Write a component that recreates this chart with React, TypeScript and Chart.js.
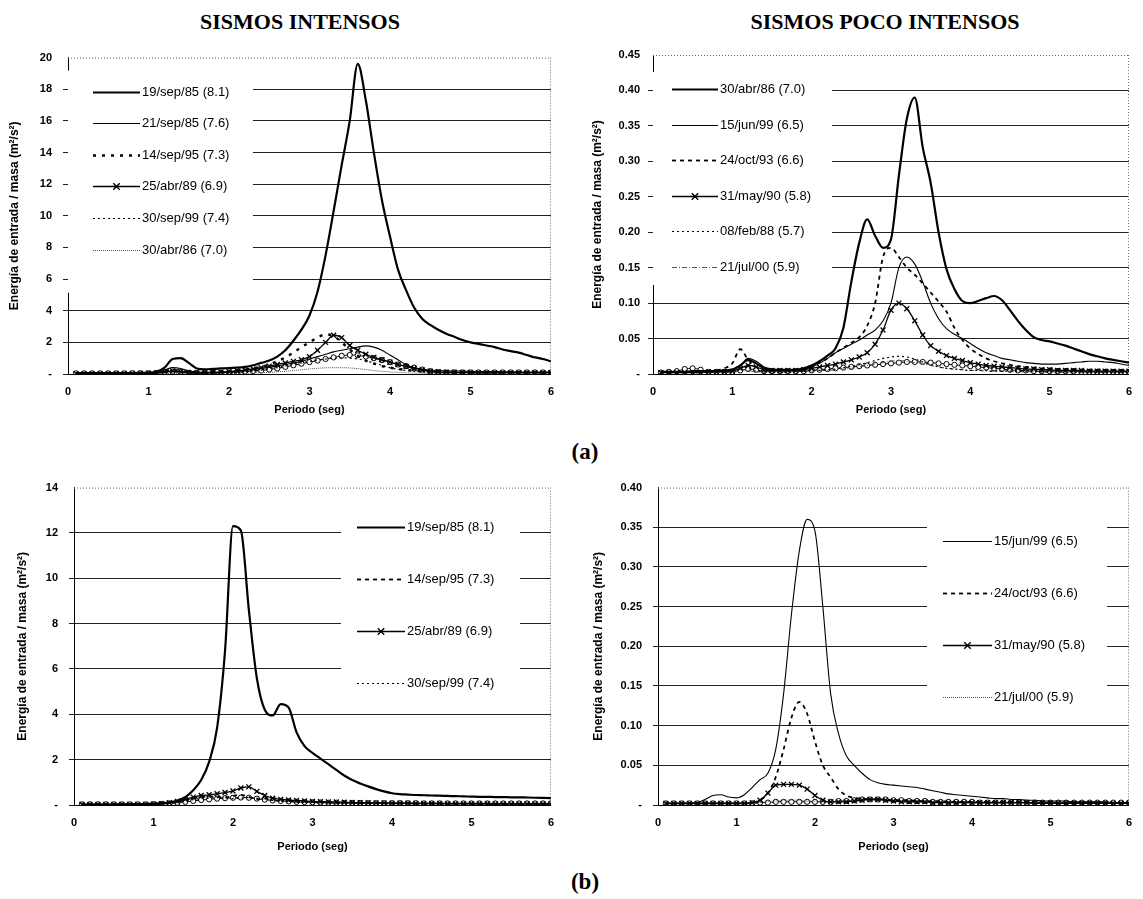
import { useEffect, useRef } from 'react';
import { Chart, registerables } from 'chart.js';

Chart.register(...registerables);

// ---------- shared x values (periodo, seg) ----------
const periods = [
  0.1, 0.2, 0.3, 0.4, 0.5, 0.6, 0.7, 0.8, 0.9, 1.0,
  1.1, 1.2, 1.3, 1.4, 1.5, 1.6, 1.7, 1.8, 1.9, 2.0,
  2.1, 2.2, 2.3, 2.4, 2.5, 2.6, 2.7, 2.8, 2.9, 3.0,
  3.1, 3.2, 3.3, 3.4, 3.5, 3.6, 3.7, 3.8, 3.9, 4.0,
  4.1, 4.2, 4.3, 4.4, 4.5, 4.6, 4.7, 4.8, 4.9, 5.0,
  5.1, 5.2, 5.3, 5.4, 5.5, 5.6, 5.7, 5.8, 5.9, 6.0,
];
const xTicks = [0, 1, 2, 3, 4, 5, 6];

// ---------- (a) SISMOS INTENSOS ----------
const tl19sep85 = [
  0.05, 0.05, 0.05, 0.05, 0.05, 0.05, 0.06, 0.06, 0.07, 0.08,
  0.15, 0.4, 0.95, 1.0, 0.7, 0.35, 0.3, 0.32, 0.35, 0.38,
  0.4, 0.45, 0.55, 0.7, 0.85, 1.1, 1.5, 2.1, 2.8, 3.7,
  5.2, 7.5, 10.3, 13.2, 16.0, 19.6, 17.3, 14.0, 11.0, 8.7,
  6.6, 5.3, 4.2, 3.5, 3.1, 2.8, 2.55, 2.35, 2.15, 2.0,
  1.9, 1.8, 1.7, 1.55, 1.45, 1.35, 1.2, 1.05, 0.95, 0.8,
];
const tl21sep85 = [
  0.03, 0.03, 0.03, 0.03, 0.03, 0.03, 0.04, 0.04, 0.05, 0.06,
  0.1, 0.25, 0.4, 0.35, 0.2, 0.12, 0.1, 0.1, 0.12, 0.15,
  0.18, 0.22, 0.28, 0.35, 0.42, 0.5, 0.6, 0.7, 0.8, 0.95,
  1.1, 1.25, 1.4, 1.5, 1.6, 1.7, 1.78, 1.7, 1.5, 1.2,
  0.9, 0.6, 0.4, 0.3, 0.25, 0.22, 0.2, 0.19, 0.18, 0.17,
  0.16, 0.15, 0.15, 0.14, 0.14, 0.13, 0.13, 0.12, 0.12, 0.12,
];
const tl14sep95 = [
  0.03, 0.03, 0.03, 0.03, 0.03, 0.03, 0.04, 0.05, 0.06, 0.08,
  0.12, 0.2, 0.25, 0.2, 0.12, 0.1, 0.1, 0.12, 0.15, 0.18,
  0.22, 0.28, 0.35, 0.45, 0.6, 0.8, 1.05, 1.35, 1.7, 2.0,
  2.3, 2.5, 2.4, 2.0, 1.55, 1.15, 0.85, 0.65, 0.5, 0.4,
  0.32, 0.26, 0.22, 0.19, 0.17, 0.15, 0.14, 0.13, 0.12, 0.11,
  0.1, 0.1, 0.1, 0.1, 0.1, 0.1, 0.1, 0.1, 0.1, 0.1,
];
const tl25abr89 = [
  0.02, 0.02, 0.02, 0.02, 0.02, 0.03, 0.03, 0.03, 0.04, 0.05,
  0.08, 0.15, 0.2, 0.15, 0.1, 0.08, 0.08, 0.1, 0.12, 0.15,
  0.2, 0.25, 0.32, 0.4, 0.5, 0.6, 0.7, 0.8, 0.9, 1.1,
  1.5, 2.0, 2.45, 2.3, 1.8, 1.5, 1.25, 1.05, 0.9, 0.75,
  0.6, 0.48, 0.35, 0.25, 0.18, 0.14, 0.12, 0.11, 0.1, 0.1,
  0.09, 0.09, 0.09, 0.09, 0.09, 0.09, 0.09, 0.09, 0.09, 0.09,
];
const tl30sep99 = [
  0.02, 0.02, 0.02, 0.02, 0.02, 0.02, 0.02, 0.03, 0.03, 0.04,
  0.05, 0.1, 0.15, 0.1, 0.06, 0.05, 0.05, 0.06, 0.08, 0.1,
  0.12, 0.15, 0.2, 0.25, 0.32, 0.4, 0.5, 0.6, 0.7, 0.8,
  0.88, 0.95, 1.0, 1.02, 1.0, 0.95, 0.85, 0.7, 0.55, 0.4,
  0.3, 0.22, 0.17, 0.14, 0.12, 0.1, 0.09, 0.08, 0.08, 0.07,
  0.07, 0.07, 0.07, 0.07, 0.07, 0.07, 0.07, 0.07, 0.07, 0.07,
];
const tl30abr86 = [
  0.01, 0.01, 0.01, 0.01, 0.01, 0.01, 0.01, 0.01, 0.01, 0.01,
  0.01, 0.02, 0.03, 0.02, 0.01, 0.01, 0.01, 0.02, 0.02, 0.03,
  0.04, 0.05, 0.06, 0.08, 0.1, 0.13, 0.17, 0.22, 0.27, 0.32,
  0.36, 0.39, 0.4, 0.4, 0.38, 0.34, 0.28, 0.22, 0.17, 0.13,
  0.1, 0.08, 0.06, 0.05, 0.04, 0.04, 0.03, 0.03, 0.03, 0.03,
  0.03, 0.03, 0.03, 0.03, 0.03, 0.03, 0.03, 0.03, 0.03, 0.03,
];
const tlCircles = [
  0.04, 0.04, 0.04, 0.04, 0.04, 0.04, 0.04, 0.05, 0.05, 0.05,
  0.06, 0.1, 0.15, 0.12, 0.08, 0.06, 0.06, 0.07, 0.08, 0.1,
  0.12, 0.15, 0.18, 0.22, 0.28, 0.35, 0.45, 0.55, 0.65, 0.75,
  0.85, 0.95, 1.05, 1.15, 1.2, 1.18, 1.1, 1.0, 0.88, 0.75,
  0.6, 0.5, 0.4, 0.28, 0.18, 0.12, 0.1, 0.1, 0.1, 0.1,
  0.1, 0.1, 0.1, 0.1, 0.1, 0.1, 0.1, 0.1, 0.1, 0.1,
];

// ---------- (a) SISMOS POCO INTENSOS ----------
const tr30abr86 = [
  0.003, 0.003, 0.003, 0.003, 0.004, 0.004, 0.004, 0.004, 0.005, 0.006,
  0.012, 0.02, 0.015, 0.008, 0.006, 0.006, 0.006, 0.006, 0.008, 0.012,
  0.018, 0.026, 0.036, 0.065, 0.13, 0.185, 0.218, 0.195, 0.178, 0.19,
  0.28, 0.36, 0.39, 0.32, 0.27, 0.2, 0.148, 0.12, 0.103, 0.1,
  0.103, 0.107, 0.11, 0.104, 0.09, 0.075, 0.062, 0.052, 0.048, 0.046,
  0.043, 0.04, 0.036, 0.032, 0.028, 0.025, 0.022, 0.02, 0.018, 0.016,
];
const tr15jun99 = [
  0.003, 0.003, 0.003, 0.003, 0.003, 0.003, 0.004, 0.004, 0.005, 0.007,
  0.012, 0.022, 0.018, 0.01, 0.007, 0.006, 0.006, 0.006, 0.007, 0.01,
  0.015, 0.022, 0.03, 0.036, 0.042, 0.048, 0.055, 0.062, 0.075, 0.1,
  0.15, 0.165, 0.155, 0.13, 0.1, 0.078, 0.064, 0.056, 0.05, 0.043,
  0.036, 0.03, 0.026, 0.022, 0.02, 0.018, 0.016, 0.015, 0.014, 0.014,
  0.014, 0.015, 0.016, 0.017, 0.018, 0.018, 0.017, 0.016, 0.014, 0.012,
];
const tr24oct93 = [
  0.003, 0.003, 0.003, 0.003, 0.003, 0.004, 0.004, 0.005, 0.008, 0.015,
  0.035, 0.02, 0.01, 0.006, 0.005, 0.005, 0.005, 0.006, 0.008, 0.012,
  0.016, 0.022, 0.03, 0.037, 0.044, 0.052, 0.068, 0.1, 0.165, 0.178,
  0.165, 0.15, 0.14, 0.128, 0.115, 0.102, 0.088, 0.065, 0.048, 0.036,
  0.028, 0.022, 0.018, 0.015, 0.013, 0.011, 0.01, 0.009, 0.008, 0.008,
  0.007, 0.007, 0.007, 0.006, 0.006, 0.006, 0.006, 0.005, 0.005, 0.005,
];
const tr31may90 = [
  0.002, 0.002, 0.002, 0.002, 0.002, 0.002, 0.003, 0.003, 0.003, 0.004,
  0.008, 0.012, 0.01, 0.006, 0.005, 0.005, 0.005, 0.005, 0.006, 0.008,
  0.01, 0.012, 0.014, 0.017, 0.02, 0.024, 0.03, 0.042, 0.062, 0.09,
  0.1, 0.092, 0.075, 0.055, 0.04, 0.032, 0.026, 0.022, 0.019, 0.016,
  0.014, 0.012, 0.011, 0.01, 0.009, 0.008, 0.007, 0.007, 0.006, 0.006,
  0.005, 0.005, 0.005, 0.005, 0.004, 0.004, 0.004, 0.004, 0.004, 0.004,
];
const tr08feb88 = [
  0.002, 0.002, 0.002, 0.002, 0.002, 0.002, 0.002, 0.003, 0.004, 0.006,
  0.012, 0.008, 0.004, 0.003, 0.003, 0.003, 0.003, 0.004, 0.004, 0.005,
  0.005, 0.006, 0.007, 0.009, 0.011, 0.013, 0.016, 0.019, 0.022, 0.024,
  0.025, 0.024, 0.021, 0.017, 0.013, 0.01, 0.008, 0.007, 0.006, 0.005,
  0.005, 0.005, 0.004, 0.004, 0.004, 0.004, 0.004, 0.004, 0.003, 0.003,
  0.003, 0.003, 0.003, 0.003, 0.003, 0.003, 0.003, 0.003, 0.003, 0.003,
];
const tr21jul00 = [
  0.002, 0.002, 0.002, 0.002, 0.002, 0.002, 0.002, 0.002, 0.002, 0.003,
  0.006, 0.005, 0.003, 0.003, 0.003, 0.003, 0.003, 0.003, 0.004, 0.004,
  0.005, 0.005, 0.006, 0.007, 0.008, 0.01, 0.012, 0.014, 0.016, 0.018,
  0.019, 0.018, 0.016, 0.014, 0.012, 0.01, 0.008, 0.007, 0.006, 0.005,
  0.005, 0.004, 0.004, 0.004, 0.004, 0.003, 0.003, 0.003, 0.003, 0.003,
  0.003, 0.003, 0.003, 0.003, 0.003, 0.003, 0.003, 0.003, 0.003, 0.003,
];
const trCircles = [
  0.002, 0.003, 0.004, 0.007, 0.008, 0.006, 0.003, 0.003, 0.003, 0.003,
  0.005, 0.007, 0.006, 0.004, 0.004, 0.004, 0.004, 0.004, 0.004, 0.005,
  0.006, 0.007, 0.008, 0.009, 0.01, 0.011, 0.012, 0.013, 0.014, 0.015,
  0.016, 0.017, 0.017, 0.017, 0.016, 0.015, 0.014, 0.013, 0.012, 0.011,
  0.01, 0.009, 0.008, 0.007, 0.006, 0.005, 0.005, 0.004, 0.004, 0.004,
  0.004, 0.004, 0.004, 0.003, 0.003, 0.003, 0.003, 0.003, 0.003, 0.003,
];

// ---------- (b) SISMOS INTENSOS ----------
const bl19sep85 = [
  0.02, 0.02, 0.02, 0.02, 0.02, 0.03, 0.03, 0.04, 0.05, 0.06,
  0.08, 0.12, 0.2, 0.35, 0.65, 1.1, 1.9, 3.4, 6.8, 12.3,
  12.1, 8.6, 5.6, 4.2, 3.95, 4.45, 4.3, 3.2, 2.6, 2.3,
  2.05, 1.8, 1.55, 1.3, 1.1, 0.95, 0.82, 0.7, 0.6, 0.52,
  0.48, 0.46, 0.44, 0.43, 0.42, 0.41, 0.4, 0.39, 0.38, 0.37,
  0.36, 0.36, 0.35, 0.35, 0.34, 0.34, 0.33, 0.32, 0.31, 0.3,
];
const bl14sep95 = [
  0.02, 0.02, 0.02, 0.02, 0.02, 0.02, 0.03, 0.03, 0.03, 0.04,
  0.06, 0.1, 0.15, 0.22, 0.3, 0.35, 0.38, 0.36, 0.33, 0.4,
  0.45, 0.35, 0.25, 0.28, 0.3, 0.25, 0.2, 0.17, 0.15, 0.13,
  0.12, 0.11, 0.1, 0.1, 0.09, 0.09, 0.08, 0.08, 0.08, 0.07,
  0.07, 0.07, 0.07, 0.06, 0.06, 0.06, 0.06, 0.06, 0.06, 0.06,
  0.05, 0.05, 0.05, 0.05, 0.05, 0.05, 0.05, 0.05, 0.05, 0.05,
];
const bl25abr89 = [
  0.02, 0.02, 0.02, 0.02, 0.02, 0.02, 0.03, 0.03, 0.03, 0.04,
  0.06, 0.1, 0.16, 0.25, 0.35, 0.42, 0.45, 0.5, 0.55, 0.62,
  0.75, 0.8, 0.6, 0.42, 0.3, 0.25, 0.22, 0.2, 0.18, 0.16,
  0.15, 0.14, 0.13, 0.12, 0.11, 0.1, 0.1, 0.09, 0.09, 0.08,
  0.08, 0.08, 0.07, 0.07, 0.07, 0.07, 0.06, 0.06, 0.06, 0.06,
  0.06, 0.06, 0.05, 0.05, 0.05, 0.05, 0.05, 0.05, 0.05, 0.05,
];
const bl30sep99 = [
  0.02, 0.02, 0.02, 0.02, 0.02, 0.02, 0.02, 0.03, 0.03, 0.04,
  0.05, 0.08, 0.12, 0.18, 0.24, 0.28, 0.3, 0.32, 0.3, 0.28,
  0.3, 0.33, 0.3, 0.25, 0.2, 0.17, 0.15, 0.13, 0.12, 0.11,
  0.1, 0.09, 0.09, 0.08, 0.08, 0.07, 0.07, 0.07, 0.06, 0.06,
  0.06, 0.06, 0.05, 0.05, 0.05, 0.05, 0.05, 0.05, 0.05, 0.05,
  0.04, 0.04, 0.04, 0.04, 0.04, 0.04, 0.04, 0.04, 0.04, 0.04,
];
const blCircles = [
  0.03, 0.03, 0.03, 0.03, 0.03, 0.03, 0.03, 0.03, 0.03, 0.04,
  0.05, 0.07, 0.1, 0.14, 0.18, 0.22, 0.25, 0.28, 0.3, 0.32,
  0.33, 0.32, 0.28, 0.24, 0.2, 0.18, 0.16, 0.14, 0.13, 0.12,
  0.11, 0.1, 0.1, 0.09, 0.09, 0.09, 0.08, 0.08, 0.08, 0.08,
  0.08, 0.08, 0.08, 0.07, 0.07, 0.07, 0.07, 0.07, 0.07, 0.07,
  0.07, 0.07, 0.07, 0.07, 0.07, 0.07, 0.07, 0.07, 0.07, 0.07,
];

// ---------- (b) SISMOS POCO INTENSOS ----------
const br15jun99 = [
  0.002, 0.002, 0.002, 0.002, 0.003, 0.007, 0.012, 0.013, 0.01, 0.009,
  0.013, 0.022, 0.032, 0.04, 0.07, 0.14, 0.24, 0.32, 0.36, 0.345,
  0.25, 0.14, 0.09, 0.062, 0.05, 0.04, 0.032, 0.028, 0.026, 0.025,
  0.024, 0.023, 0.022, 0.02, 0.018, 0.016, 0.014, 0.013, 0.012, 0.011,
  0.01, 0.009, 0.008, 0.008, 0.007, 0.007, 0.006, 0.006, 0.005, 0.005,
  0.005, 0.005, 0.004, 0.004, 0.004, 0.004, 0.004, 0.003, 0.003, 0.003,
];
const br24oct93 = [
  0.002, 0.002, 0.002, 0.002, 0.002, 0.002, 0.002, 0.002, 0.002, 0.002,
  0.002, 0.003, 0.006, 0.015, 0.035, 0.07, 0.11, 0.13, 0.115, 0.08,
  0.05, 0.035, 0.02, 0.012, 0.009, 0.008, 0.007, 0.007, 0.007, 0.006,
  0.006, 0.006, 0.005, 0.005, 0.005, 0.005, 0.004, 0.004, 0.004, 0.004,
  0.004, 0.004, 0.004, 0.004, 0.004, 0.004, 0.004, 0.004, 0.004, 0.004,
  0.003, 0.003, 0.003, 0.003, 0.003, 0.003, 0.003, 0.003, 0.003, 0.003,
];
const br31may90 = [
  0.002, 0.002, 0.002, 0.002, 0.002, 0.002, 0.002, 0.002, 0.002, 0.002,
  0.002, 0.003, 0.006, 0.015, 0.025, 0.026, 0.026, 0.025, 0.02, 0.012,
  0.006, 0.004, 0.004, 0.004, 0.005, 0.006, 0.007, 0.007, 0.006, 0.005,
  0.004, 0.004, 0.004, 0.004, 0.003, 0.003, 0.003, 0.003, 0.003, 0.003,
  0.003, 0.003, 0.003, 0.003, 0.003, 0.003, 0.003, 0.002, 0.002, 0.002,
  0.002, 0.002, 0.002, 0.002, 0.002, 0.002, 0.002, 0.002, 0.002, 0.002,
];
const br21jul00 = [
  0.001, 0.001, 0.001, 0.001, 0.001, 0.002, 0.002, 0.002, 0.002, 0.002,
  0.002, 0.002, 0.003, 0.004, 0.005, 0.006, 0.006, 0.006, 0.005, 0.005,
  0.004, 0.004, 0.004, 0.005, 0.005, 0.006, 0.006, 0.006, 0.005, 0.005,
  0.004, 0.004, 0.004, 0.003, 0.003, 0.003, 0.003, 0.003, 0.003, 0.002,
  0.002, 0.002, 0.002, 0.002, 0.002, 0.002, 0.002, 0.002, 0.002, 0.002,
  0.002, 0.002, 0.002, 0.002, 0.002, 0.002, 0.002, 0.002, 0.002, 0.002,
];
const brCircles = [
  0.002, 0.002, 0.002, 0.002, 0.002, 0.002, 0.002, 0.002, 0.002, 0.002,
  0.002, 0.002, 0.003, 0.003, 0.004, 0.004, 0.004, 0.004, 0.004, 0.004,
  0.004, 0.004, 0.005, 0.005, 0.006, 0.007, 0.007, 0.007, 0.007, 0.006,
  0.006, 0.005, 0.005, 0.005, 0.004, 0.004, 0.004, 0.004, 0.004, 0.004,
  0.003, 0.003, 0.003, 0.003, 0.003, 0.003, 0.003, 0.003, 0.003, 0.003,
  0.003, 0.003, 0.003, 0.003, 0.003, 0.003, 0.003, 0.003, 0.003, 0.003,
];

// ---------- styles ----------
type StyleKey = 'thick' | 'thin' | 'bigDots' | 'dashed' | 'cross' | 'dotted' | 'fine' | 'dashDot' | 'circles';
const STYLE: Record<StyleKey, any> = {
  thick: { borderWidth: 2.2, borderDash: [], color: '#000', radius: 0 },
  thin: { borderWidth: 1.1, borderDash: [], color: '#000', radius: 0 },
  bigDots: { borderWidth: 2.4, borderDash: [3, 6], color: '#000', radius: 0 },
  dashed: { borderWidth: 1.8, borderDash: [4, 4], color: '#000', radius: 0 },
  cross: { borderWidth: 1.3, borderDash: [], color: '#000', radius: 3.5, pointStyle: 'crossRot', pointBorderWidth: 1.3 },
  dotted: { borderWidth: 1.2, borderDash: [2, 3], color: '#000', radius: 0 },
  fine: { borderWidth: 1, borderDash: [1, 1], color: '#555', radius: 0 },
  dashDot: { borderWidth: 1, borderDash: [5, 2, 1, 2], color: '#555', radius: 0 },
  circles: { borderWidth: 1, borderDash: [], color: '#000', radius: 2.6, pointStyle: 'circle', pointBorderWidth: 1, pointBg: '#fff' },
};

type Series = { label: string; values: number[]; style: StyleKey };

const FONT = 'Arial, "Liberation Sans", Helvetica, sans-serif';

type Panel = {
  left: number; top: number; w: number; h: number;
  yWidth: number; xHeight: number; padTop: number; padRight: number;
  yMax: number; yStep: number; decimals: number;
  yTitlePad: number; xTitlePad: number; tickPadY: number;
  series: Series[];
  legend: { boxX: number; boxY: number; boxW: number; boxH: number; rowY: number; rowGap: number; lineX0: number; lineX1: number; textX: number; font: number };
};

const insideLegend = {
  id: 'insideLegend',
  beforeDatasetsDraw(chart: any, _args: any, opts: any) {
    const { ctx, chartArea: a } = chart;
    ctx.save();
    // dotted top and right frame
    ctx.strokeStyle = '#666';
    ctx.lineWidth = 1;
    ctx.setLineDash([1, 2]);
    ctx.beginPath();
    ctx.moveTo(a.left, a.top + 0.5);
    ctx.lineTo(a.right, a.top + 0.5);
    ctx.moveTo(a.right - 0.5, a.top);
    ctx.lineTo(a.right - 0.5, a.bottom);
    ctx.stroke();
    // legend box
    ctx.setLineDash([]);
    ctx.fillStyle = '#fff';
    ctx.fillRect(a.left + opts.boxX, a.top + opts.boxY, opts.boxW, opts.boxH);
    let row = 0;
    chart.data.datasets.forEach((ds: any) => {
      if (!ds.label) return;
      const y = Math.round(a.top + opts.rowY + row * opts.rowGap) + 0.5;
      const x0 = a.left + opts.lineX0;
      const x1 = a.left + opts.lineX1;
      ctx.strokeStyle = ds.borderColor;
      ctx.lineWidth = ds.borderWidth;
      ctx.setLineDash(ds.borderDash || []);
      ctx.beginPath();
      ctx.moveTo(x0, y);
      ctx.lineTo(x1, y);
      ctx.stroke();
      ctx.setLineDash([]);
      if (ds.pointRadius > 0 && ds.pointStyle === 'crossRot') {
        const r = ds.pointRadius + 0.8;
        const cx = (x0 + x1) / 2;
        ctx.lineWidth = 1.4;
        ctx.beginPath();
        ctx.moveTo(cx - r * 0.75, y - r * 0.75);
        ctx.lineTo(cx + r * 0.75, y + r * 0.75);
        ctx.moveTo(cx + r * 0.75, y - r * 0.75);
        ctx.lineTo(cx - r * 0.75, y + r * 0.75);
        ctx.stroke();
      }
      ctx.fillStyle = '#000';
      ctx.font = `${opts.font}px ${FONT}`;
      ctx.textBaseline = 'middle';
      ctx.textAlign = 'left';
      ctx.fillText(ds.label, a.left + opts.textX, y);
      row++;
    });
    ctx.restore();
  },
};

function buildConfig(p: Panel): any {
  const datasets = p.series.map((s) => {
    const st = STYLE[s.style];
    return {
      label: s.label,
      data: periods.map((x, i) => ({ x, y: s.values[i] })),
      borderColor: st.color,
      backgroundColor: st.color,
      borderWidth: st.borderWidth,
      borderDash: st.borderDash,
      pointStyle: st.pointStyle || 'circle',
      pointRadius: st.radius,
      pointBorderWidth: st.pointBorderWidth || 1,
      pointBackgroundColor: st.pointBg || '#000',
      pointBorderColor: '#000',
      fill: false,
      cubicInterpolationMode: 'monotone',
    };
  });
  const tickFont = { family: FONT, size: 11, weight: 'bold' as const };
  const titleFont = { family: FONT, size: 12, weight: 'bold' as const };
  const yMax = p.yMax;
  return {
    type: 'line',
    data: { datasets },
    options: {
      animation: false,
      responsive: false,
      maintainAspectRatio: false,
      devicePixelRatio: 1,
      layout: { padding: { top: p.padTop, right: p.padRight, left: 0, bottom: 0 } },
      plugins: {
        legend: { display: false },
        tooltip: { enabled: false },
        insideLegend: p.legend,
      },
      scales: {
        x: {
          type: 'linear',
          min: 0,
          max: 6,
          afterBuildTicks: (s: any) => { s.ticks = xTicks.map((v) => ({ value: v })); },
          ticks: { font: tickFont, color: '#000', padding: 11, maxRotation: 0, callback: (v: any) => String(v) },
          grid: { display: false, drawTicks: false },
          border: { display: true, color: '#000', width: 1 },
          title: { display: true, text: 'Periodo (seg)', font: { family: FONT, size: 11, weight: 'bold' }, color: '#000', padding: { top: 0, bottom: p.xTitlePad } },
          afterFit: (s: any) => { s.height = p.xHeight; },
        },
        y: {
          type: 'linear',
          min: 0,
          max: yMax,
          ticks: {
            stepSize: p.yStep,
            font: tickFont,
            color: '#000',
            padding: p.tickPadY,
            callback: (v: any) => (Math.abs(v) < 1e-9 ? '-' : Number(v).toFixed(p.decimals)),
          },
          grid: {
            color: (c: any) => (c.tick && Math.abs(c.tick.value - yMax) < 1e-9 ? 'rgba(0,0,0,0)' : '#222'),
            lineWidth: 1,
            tickLength: 5,
          },
          border: { display: true, color: '#000', width: 1 },
          title: {
            display: true,
            text: 'Energía de entrada / masa (m²/s²)',
            font: titleFont,
            color: '#000',
            padding: { top: p.yTitlePad, bottom: 0 },
          },
          afterFit: (s: any) => { s.width = p.yWidth; },
        },
      },
    },
    plugins: [insideLegend],
  };
}

const panels: Panel[] = [
  {
    left: 0, top: 40, w: 565, h: 380, yWidth: 68, xHeight: 46, padTop: 15, padRight: 14,
    yMax: 20, yStep: 2, decimals: 0, yTitlePad: 7, xTitlePad: 3, tickPadY: 11,
    series: [
      { label: '19/sep/85 (8.1)', values: tl19sep85, style: 'thick' },
      { label: '21/sep/85 (7.6)', values: tl21sep85, style: 'thin' },
      { label: '14/sep/95 (7.3)', values: tl14sep95, style: 'bigDots' },
      { label: '25/abr/89 (6.9)', values: tl25abr89, style: 'cross' },
      { label: '30/sep/99 (7.4)', values: tl30sep99, style: 'dotted' },
      { label: '30/abr/86 (7.0)', values: tl30abr86, style: 'fine' },
      { label: '', values: tlCircles, style: 'circles' },
    ],
    legend: { boxX: 0, boxY: 13, boxW: 185, boxH: 222, rowY: 34, rowGap: 31.6, lineX0: 25, lineX1: 72, textX: 74, font: 13 },
  },
  {
    left: 575, top: 40, w: 568, h: 380, yWidth: 78, xHeight: 46, padTop: 15, padRight: 6,
    yMax: 0.45, yStep: 0.05, decimals: 2, yTitlePad: 15, xTitlePad: 3, tickPadY: 8,
    series: [
      { label: '30/abr/86 (7.0)', values: tr30abr86, style: 'thick' },
      { label: '15/jun/99 (6.5)', values: tr15jun99, style: 'thin' },
      { label: '24/oct/93 (6.6)', values: tr24oct93, style: 'dashed' },
      { label: '31/may/90 (5.8)', values: tr31may90, style: 'cross' },
      { label: '08/feb/88 (5.7)', values: tr08feb88, style: 'dotted' },
      { label: '21/jul/00 (5.9)', values: tr21jul00, style: 'dashDot' },
      { label: '', values: trCircles, style: 'circles' },
    ],
    legend: { boxX: 0, boxY: 17, boxW: 179, boxH: 213, rowY: 34, rowGap: 35.6, lineX0: 19, lineX1: 65, textX: 67, font: 13 },
  },
  {
    left: 0, top: 470, w: 565, h: 385, yWidth: 74, xHeight: 50, padTop: 17, padRight: 12,
    yMax: 14, yStep: 2, decimals: 0, yTitlePad: 15, xTitlePad: 1, tickPadY: 11,
    series: [
      { label: '19/sep/85 (8.1)', values: bl19sep85, style: 'thick' },
      { label: '14/sep/95 (7.3)', values: bl14sep95, style: 'dashed' },
      { label: '25/abr/89 (6.9)', values: bl25abr89, style: 'cross' },
      { label: '30/sep/99 (7.4)', values: bl30sep99, style: 'dotted' },
      { label: '', values: blCircles, style: 'circles' },
    ],
    legend: { boxX: 267, boxY: 18, boxW: 179, boxH: 195, rowY: 39, rowGap: 52.3, lineX0: 283, lineX1: 331, textX: 333, font: 13 },
  },
  {
    left: 575, top: 470, w: 568, h: 385, yWidth: 83, xHeight: 50, padTop: 17, padRight: 5,
    yMax: 0.4, yStep: 0.05, decimals: 2, yTitlePad: 16, xTitlePad: 1, tickPadY: 11,
    series: [
      { label: '15/jun/99 (6.5)', values: br15jun99, style: 'thin' },
      { label: '24/oct/93 (6.6)', values: br24oct93, style: 'dashed' },
      { label: '31/may/90 (5.8)', values: br31may90, style: 'cross' },
      { label: '21/jul/00 (5.9)', values: br21jul00, style: 'fine' },
      { label: '', values: brCircles, style: 'circles' },
    ],
    legend: { boxX: 269, boxY: 23, boxW: 180, boxH: 202, rowY: 53, rowGap: 52.3, lineX0: 285, lineX1: 334, textX: 336, font: 13 },
  },
];

function ChartPanel({ p }: { p: Panel }) {
  const ref = useRef<HTMLCanvasElement>(null);
  useEffect(() => {
    const chart = new Chart(ref.current as HTMLCanvasElement, buildConfig(p));
    return () => chart.destroy();
  }, [p]);
  return (
    <canvas
      ref={ref}
      width={p.w}
      height={p.h}
      style={{ position: 'absolute', left: p.left, top: p.top, width: p.w, height: p.h, display: 'block' }}
    />
  );
}

const serif = '"Liberation Serif", "Times New Roman", "DejaVu Serif", serif';

function Label({ text, cx, cy, size }: { text: string; cx: number; cy: number; size: number }) {
  return (
    <div
      style={{
        position: 'absolute', left: cx - 250, top: cy - size * 0.6, width: 500, textAlign: 'center',
        fontFamily: serif, fontWeight: 'bold', fontSize: size, lineHeight: `${size * 1.2}px`, color: '#000',
        whiteSpace: 'nowrap',
      }}
    >
      {text}
    </div>
  );
}

export default function App() {
  return (
    <div style={{ position: 'absolute', left: 0, top: 0, width: 1143, height: 899, background: '#fff', overflow: 'hidden' }}>
      <Label text="SISMOS INTENSOS" cx={300} cy={22} size={22} />
      <Label text="SISMOS POCO INTENSOS" cx={885} cy={22} size={22} />
      {panels.map((p, i) => (
        <ChartPanel key={i} p={p} />
      ))}
      <Label text="(a)" cx={585} cy={452} size={23} />
      <Label text="(b)" cx={585} cy={882} size={23} />
    </div>
  );
}
